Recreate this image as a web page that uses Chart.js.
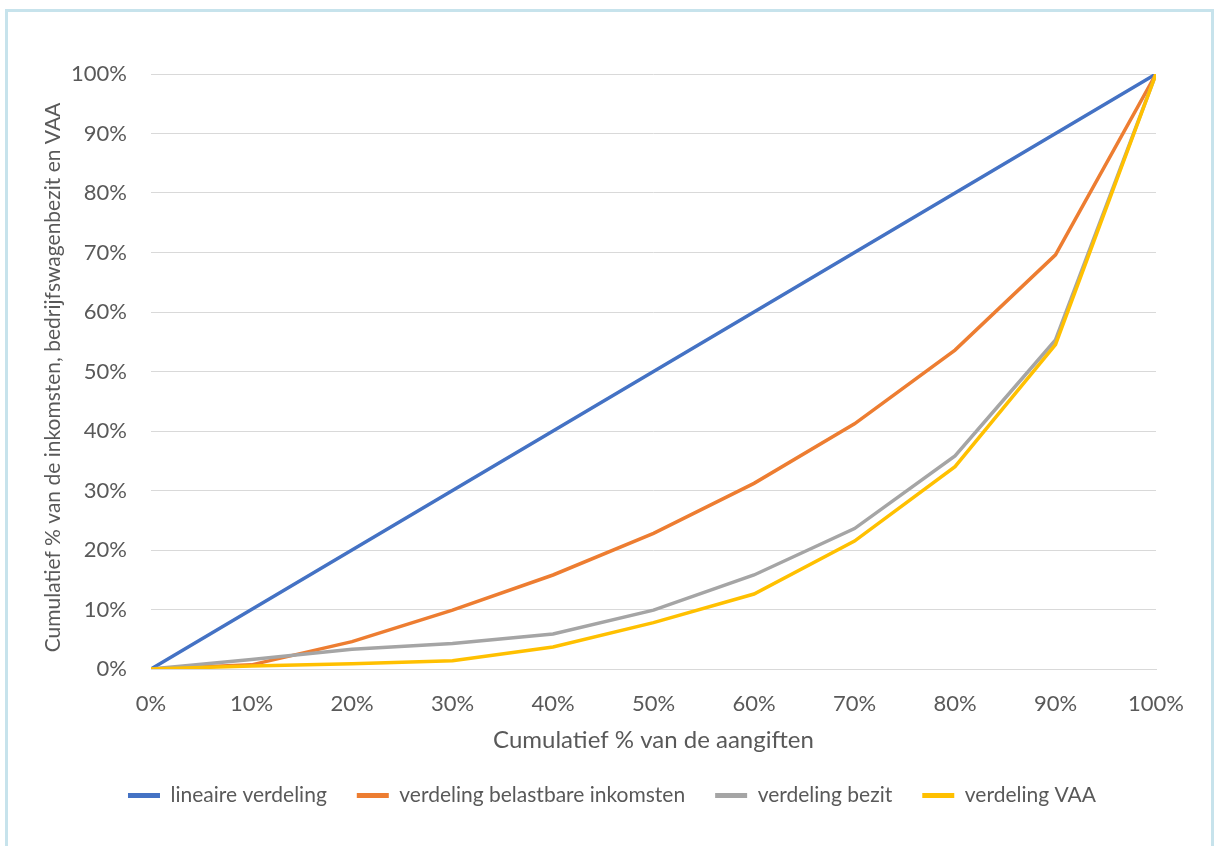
<!DOCTYPE html>
<html>
<head>
<meta charset="utf-8">
<script src="https://cdn.jsdelivr.net/npm/chart.js@4/dist/chart.umd.min.js"></script>
<style>
  html, body { margin: 0; padding: 0; background: #ffffff; }
  #frame {
    position: absolute; left: 5px; top: 9px; width: 1209px; height: 900px;
    box-sizing: border-box; border: 3px solid #c7e3ec; border-bottom: none;
  }
  #wrap { position: absolute; left: 0; top: 0; width: 1215px; height: 846px; }
</style>
</head>
<body>
<div id="frame"></div>
<div id="wrap"><canvas id="c" width="1215" height="846"></canvas></div>
<script>
// Cumulative share of returns (x) against cumulative share of each quantity (y), in %
const aangiften = [0, 10, 20, 30, 40, 50, 60, 70, 80, 90, 100];
const lineair   = [0, 10, 20, 30, 40, 50, 60, 70, 80, 90, 100];
const inkomsten = [0, 0.7, 4.6, 9.9, 15.8, 22.8, 31.2, 41.2, 53.6, 69.6, 100];
const bezit     = [0, 1.6, 3.3, 4.3, 5.9, 9.9, 15.8, 23.6, 35.8, 55.3, 100];
const vaa       = [0, 0.5, 0.9, 1.4, 3.7, 7.8, 12.6, 21.5, 34.0, 54.5, 100];

const seriesNames = ['lineaire verdeling', 'verdeling belastbare inkomsten', 'verdeling bezit', 'verdeling VAA'];
const seriesColors = ['#4472C4', '#ED7D31', '#A5A5A5', '#FFC000'];
const seriesValues = [lineair, inkomsten, bezit, vaa];

const xTitle = 'Cumulatief % van de aangiften';
const yTitle = 'Cumulatief % van de inkomsten, bedrijfswagenbezit en VAA';

const textColor = '#595959';
const fontFamily = 'Lato, "Noto Sans", sans-serif';

const datasets = seriesValues.map((vals, i) => ({
  label: seriesNames[i],
  data: aangiften.map((x, j) => ({ x: x, y: vals[j] })),
  borderColor: seriesColors[i],
  backgroundColor: seriesColors[i],
  borderWidth: 3.5,
  pointRadius: 0,
  tension: 0,
  fill: false,
  // later series are painted over earlier ones
  order: seriesValues.length - i
}));

// Vertical axis title, to the left of the tick labels
const yTitlePlugin = {
  id: 'yTitle',
  afterDraw(chart) {
    const { ctx, chartArea } = chart;
    ctx.save();
    ctx.translate(60, (chartArea.top + chartArea.bottom) / 2 + 6);
    ctx.rotate(-Math.PI / 2);
    ctx.fillStyle = textColor;
    ctx.font = '21px ' + fontFamily;
    ctx.textAlign = 'center';
    ctx.textBaseline = 'alphabetic';
    ctx.fillText(yTitle, 0, 0);
    ctx.restore();
  }
};

new Chart(document.getElementById('c'), {
  type: 'line',
  data: { datasets: datasets },
  plugins: [yTitlePlugin],
  options: {
    responsive: false,
    animation: false,
    layout: { padding: { left: 68, top: 74, right: 59, bottom: 30 } },
    plugins: {
      tooltip: { enabled: false },
      legend: {
        position: 'bottom',
        labels: {
          usePointStyle: true,
          pointStyle: 'line',
          pointStyleWidth: 32,
          color: textColor,
          font: { family: fontFamily, size: 21 },
          padding: 30,
          sort: (a, b) => a.datasetIndex - b.datasetIndex,
          generateLabels: chart =>
            Chart.defaults.plugins.legend.labels.generateLabels(chart)
              .map(item => Object.assign(item, { lineWidth: 5 }))
        }
      }
    },
    scales: {
      x: {
        type: 'linear',
        min: 0, max: 100,
        ticks: {
          stepSize: 10,
          padding: 22,
          color: textColor,
          font: { family: fontFamily, size: 22 },
          callback: v => v + '%'
        },
        grid: { display: false, drawTicks: false },
        border: { display: true, color: '#d9d9d9', width: 1 },
        title: {
          display: true,
          text: xTitle,
          color: textColor,
          font: { family: fontFamily, size: 24 },
          padding: { top: 0, bottom: 0 }
        },
        afterFit: s => { s.height = 86; }
      },
      y: {
        min: 0, max: 100,
        ticks: {
          stepSize: 10,
          padding: 24,
          color: textColor,
          font: { family: fontFamily, size: 22 },
          callback: v => v + '%'
        },
        grid: { color: '#d9d9d9', lineWidth: 1, drawTicks: false },
        border: { display: false },
        afterFit: s => { s.width = 83; }
      }
    }
  }
});
</script>
</body>
</html>
